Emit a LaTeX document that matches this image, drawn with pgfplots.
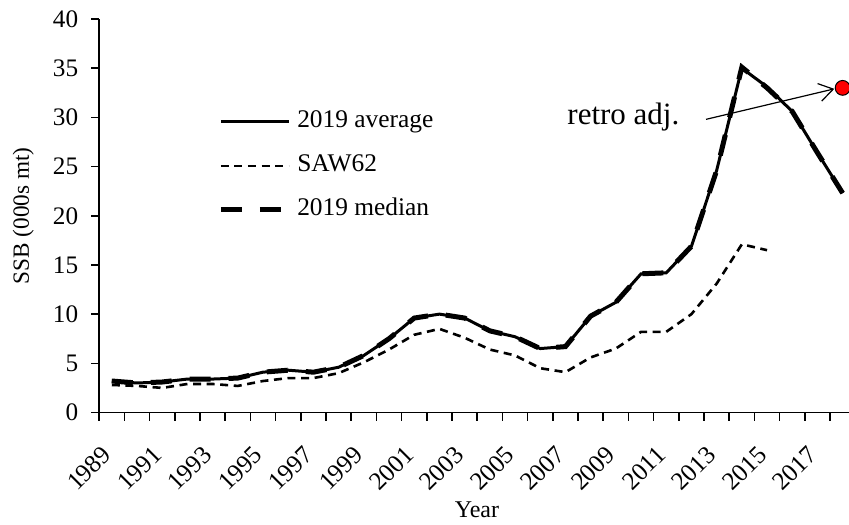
\documentclass[border=0pt]{standalone}
\usepackage{fontspec}
\setmainfont{Liberation Serif}
\usepackage{pgfplots}
\usepackage{pgfplotstable}
\pgfplotsset{compat=1.18}
\usetikzlibrary{arrows.meta}

% SSB (000s mt) by year; SAW62 stops in 2015
\pgfplotstableread{
year  avg   saw   med
1989  3.2   2.8   3.2
1990  3.0   2.7   3.0
1991  3.1   2.5   3.1
1992  3.4   2.9   3.4
1993  3.4   2.9   3.4
1994  3.5   2.7   3.5
1995  4.1   3.2   4.1
1996  4.3   3.5   4.3
1997  4.1   3.5   4.1
1998  4.6   4.0   4.6
1999  5.8   5.1   5.8
2000  7.5   6.4   7.5
2001  9.6   7.9   9.6
2002  10.0  8.5   10.0
2003  9.6   7.6   9.6
2004  8.3   6.4   8.3
2005  7.7   5.8   7.7
2006  6.5   4.5   6.5
2007  6.7   4.1   6.7
2008  9.8   5.6   9.8
2009  11.2  6.5   11.2
2010  14.1  8.2   14.1
2011  14.2  8.2   14.2
2012  16.9  10.0  16.9
2013  24.6  13.1  24.6
2014  35.0  17.1  35.1
2015  33.1  16.5  33.0
2016  30.6  nan   30.6
2017  26.4  nan   26.4
2018  22.3  nan   22.3
}\ssb

\begin{document}
\begin{tikzpicture}
\begin{axis}[
    width=375.5pt, height=196.75pt, scale only axis,
    xmin=1988.5, xmax=2018.3, ymin=0, ymax=40,
    axis x line=bottom, axis y line=left,
    axis line style={-, line width=0.75pt},
    tick style={line width=0.75pt, black},
    tick align=outside, major tick length=4pt, minor tick length=4pt,
    ytick={0,5,...,40},
    xtick={1989,1991,...,2017},
    minor xtick={1988.5,1989.5,...,2017.5},
    every major x tick/.append style={draw=none},
    x tick label style={rotate=45, anchor=east},
    xticklabel shift=12.5pt,
    yticklabel shift=3pt,
    /pgf/number format/assume math mode=true,
    xticklabel={\pgfmathprintnumber[1000 sep={}]{\tick}},
    tick label style={font=\fontsize{12.6}{14}\selectfont},
    xlabel={Year}, ylabel={SSB (000s mt)},
    every axis x label/.style={at={(axis description cs:0.503,-0.268)}, anchor=base,
        font=\fontsize{12}{14}\selectfont},
    every axis y label/.style={at={(axis description cs:-0.101,0.5)}, rotate=90, anchor=center,
        font=\fontsize{11.6}{14}\selectfont},
    legend cell align=left,
    legend style={draw=none, fill=none, inner sep=0pt,
        at={(axis description cs:0.158,0.770)}, anchor=north west,
        font=\fontsize{12.7}{15}\selectfont, row sep=10pt,
        nodes={inner sep=0pt, text height=9pt, text depth=3pt}},
    legend image code/.code={\draw[#1] (0pt,0pt) -- (34pt,0pt);},
]
\addplot[black, line width=1.5pt] table[x=year, y=avg] {\ssb};
\addlegendentry{\hspace{3pt}2019 average}
\addplot[black, line width=1.3pt, dash pattern=on 4pt off 2.8pt] table[x=year, y=saw] {\ssb};
\addlegendentry{\hspace{3pt}SAW62}
\addplot[black, line width=2.5pt, dash pattern=on 10.5pt off 9pt] table[x=year, y=med] {\ssb};
\addlegendentry{\hspace{3pt}2019 median}
\addplot[only marks, mark=*, mark size=3.7pt, forget plot,
    mark options={fill=red, draw=black, line width=0.5pt}] coordinates {(2018,33.0)};
\draw[line width=0.6pt, -{Straight Barb[length=7pt, width=9pt]}]
    (axis cs:2012.58,29.8) -- (axis cs:2017.67,32.9);
\node[font=\fontsize{15.5}{18}\selectfont] at (axis cs:2009.3,30.0) {retro adj.};
\coordinate (O) at (rel axis cs:0,0);
\end{axis}
\pgfresetboundingbox
\path[use as bounding box] ([shift={(-49.6pt,-55.75pt)}]O) rectangle ([shift={(374.9pt,206.25pt)}]O);
\end{tikzpicture}
\end{document}
